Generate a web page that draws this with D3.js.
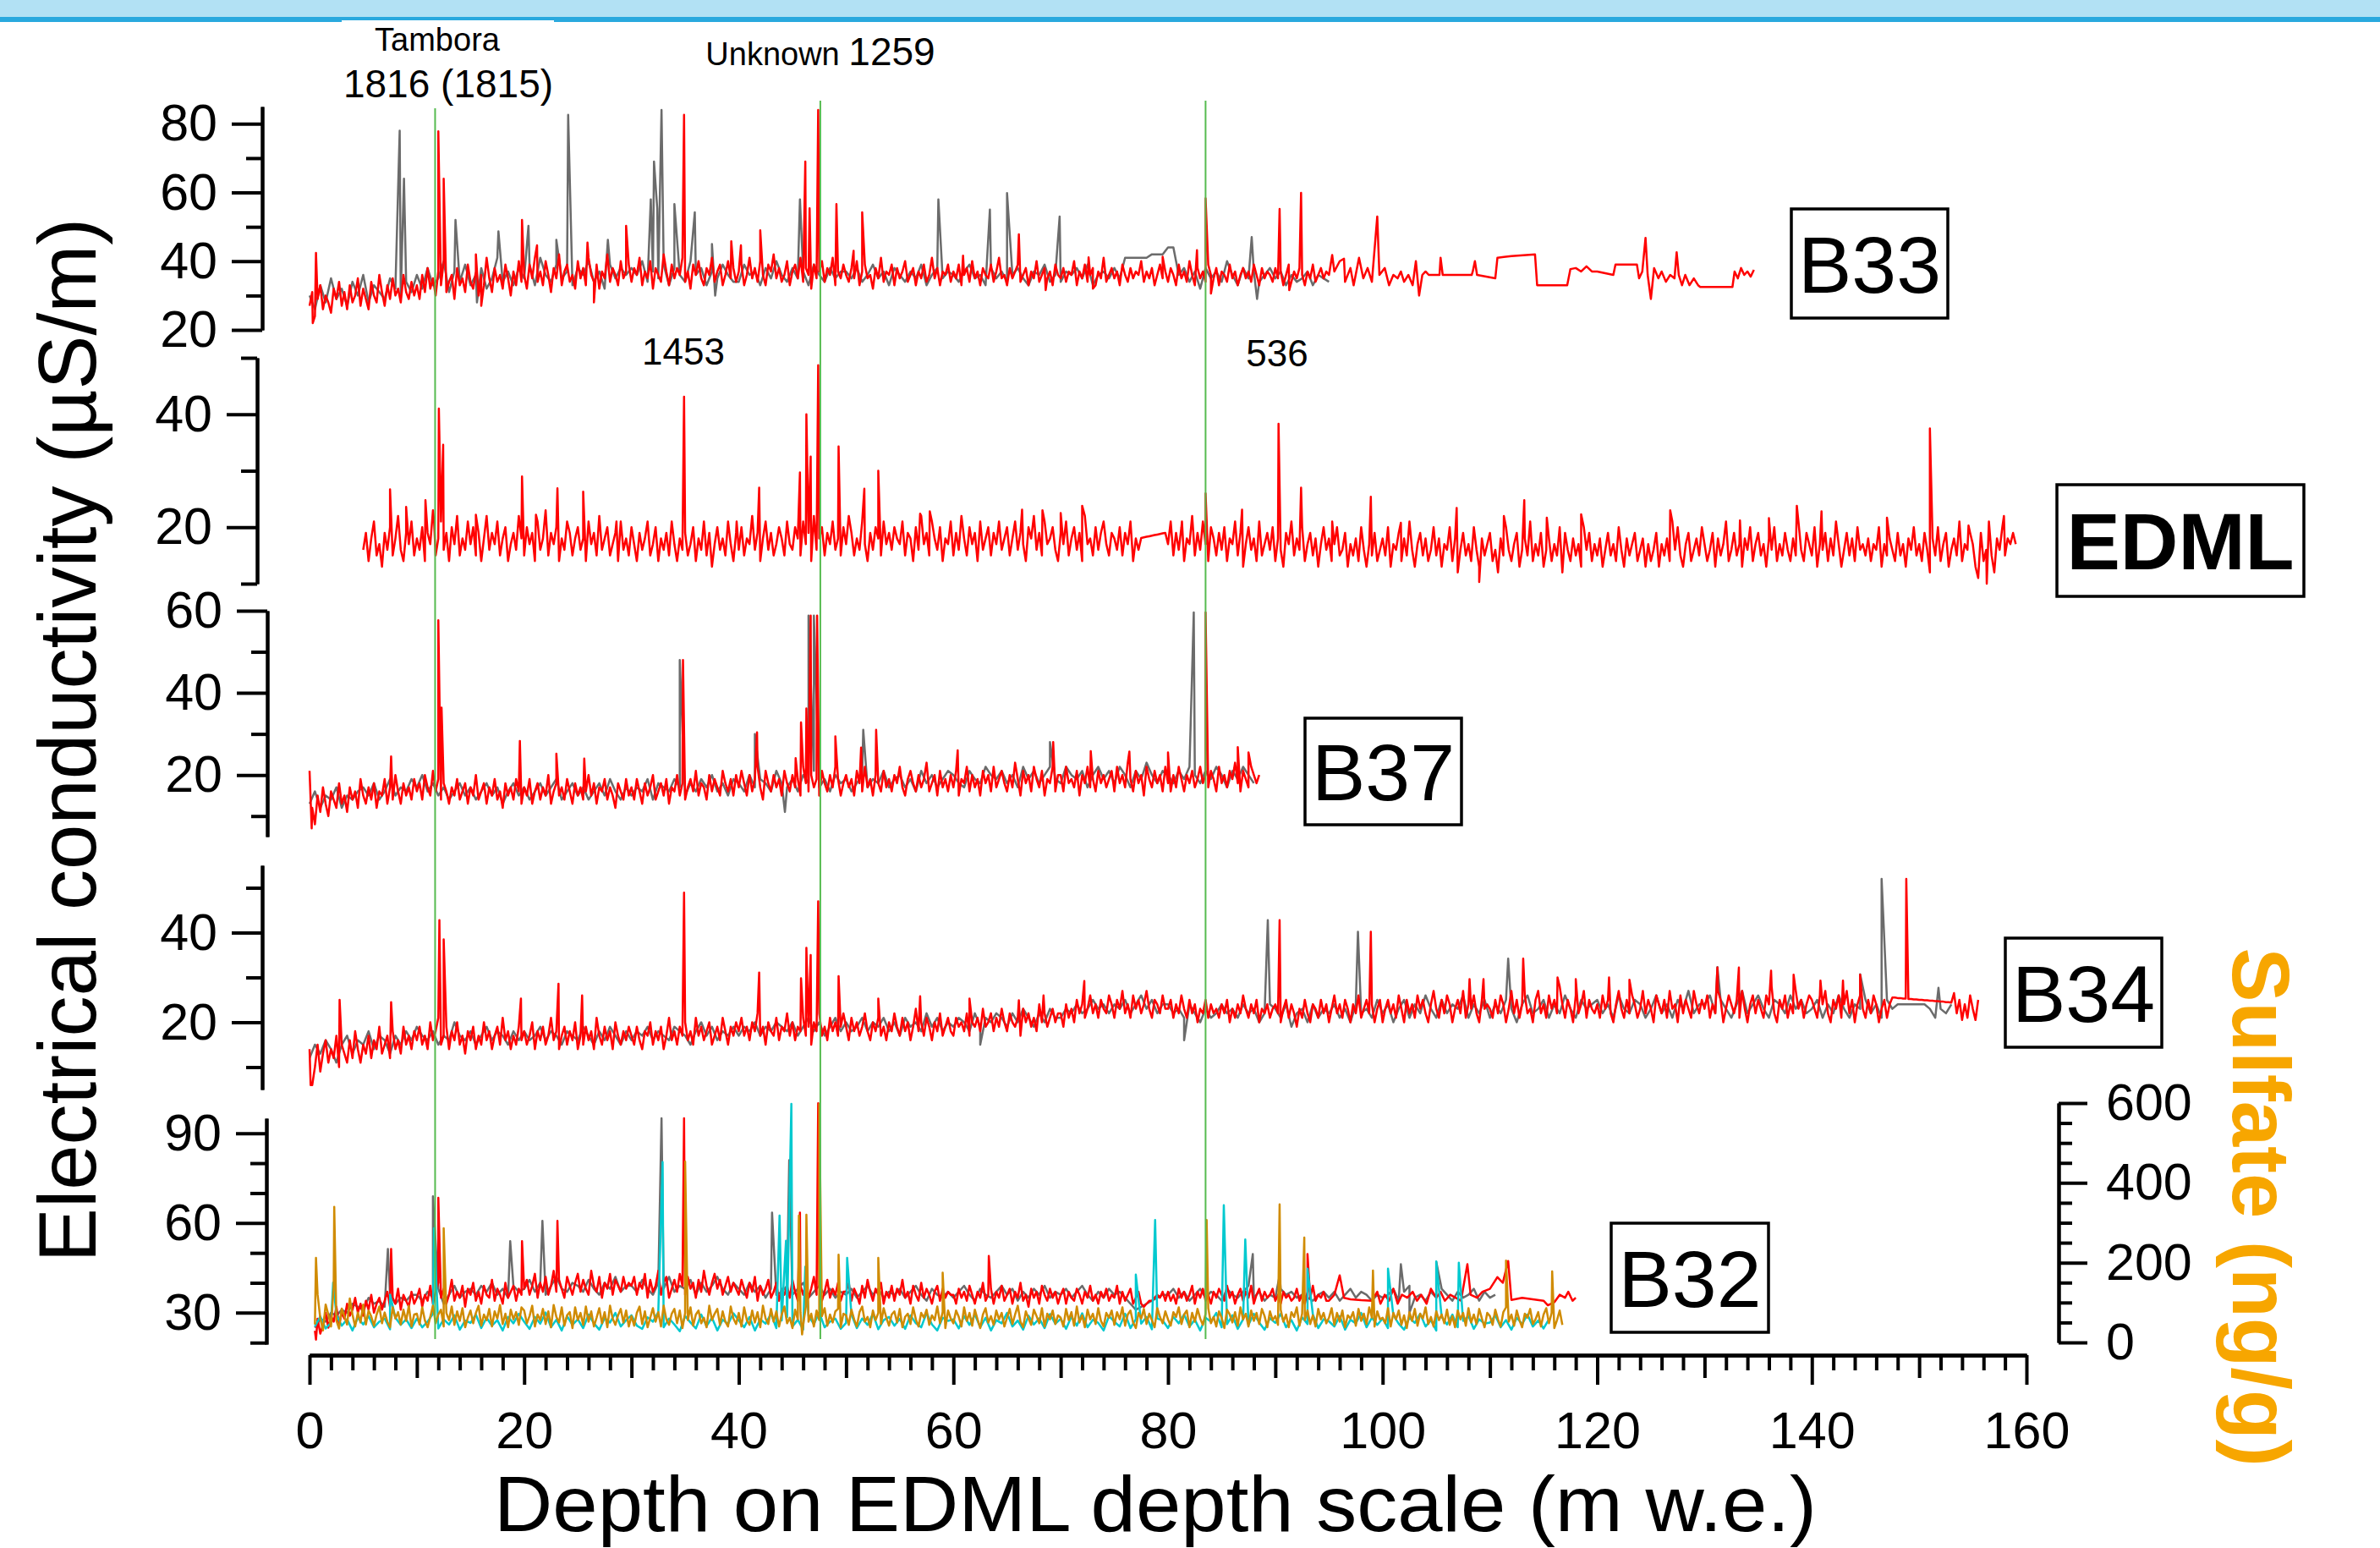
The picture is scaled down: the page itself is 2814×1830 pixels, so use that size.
<!DOCTYPE html>
<html>
<head>
<meta charset="utf-8">
<script src="https://cdn.jsdelivr.net/npm/d3@7"></script>
<style>
  html, body { margin: 0; padding: 0; background: #ffffff; }
  svg { display: block; font-family: "Liberation Sans", Arial, Helvetica, sans-serif; }
</style>
</head>
<body>
<svg id="chart" width="2814" height="1830"></svg>
<script>
// ---------------------------------------------------------------
// Depth axis
const depthTicks = [0, 20, 40, 60, 80, 100, 120, 140, 160];

// Volcanic marker horizons (m w.e.)
const eventDepths = [11.7, 47.6, 83.5];

// Each dense record: [first depth, spacing] + values,
// plus individual peaks / sparse samples as [depth, value]

// ---- B33 ----
const b33RedGrid = [0, 0.25];
const b33Red = [
  27,31,24,29,33,26,30,28,25,32,29,34,27,31,26,33,28,30,35,27,32,29,26,34,30,28,36,31,27,33,29,35,30,32,28,36,31,29,34,30,
  33,29,36,31,38,32,35,30,37,33,40,31,34,36,29,38,33,35,31,39,34,32,37,30,36,33,41,35,31,38,34,36,32,39,35,30,37,33,40,34,
  36,32,39,35,41,34,37,33,40,36,31,38,35,42,33,37,39,34,36,32,40,35,38,33,41,36,34,39,32,37,35,42,34,38,36,33,40,35,37,39,
  34,38,36,41,33,37,35,40,32,38,36,34,42,37,33,39,35,38,36,41,34,37,32,39,36,40,35,33,38,36,41,34,37,39,33,36,40,35,38,34,
  37,39,33,36,41,35,38,34,40,36,33,39,37,42,35,38,34,36,40,33,37,39,35,41,34,38,36,32,39,35,37,40,34,38,36,41,33,37,35,39,
  36,34,38,35,40,33,37,39,35,36,32,38,35,41,34,37,36,39,33,38,35,37,40,34,36,38,33,37,35,39,34,36,41,35,38,33,37,36,39,34,
  37,35,39,33,36,38,34,40,35,37,33,38,36,35,39,34,37,41,35,36,33,38,35,37,39,34,36,38,33,37,35,40,34,36,38,35,37,33,39,36,
  35,38,34,37,36,40,33,37,35,39,34,36,38,33,37,35,41,34,36,38,35,37,33,39,36,34,38,35,37,36,40,34,37,35,38,33,36,39,35,37,
  34,38,36,33,39,35,37,34,40,36,33,38,35,37,34,39,36,35,38,33,37,36,34,39,35,37,33,36,38,35,37,34,39,36,33,38,35,37,36,34,
  38,35,37,33,36,39,34,37,35,38,36,33,37,35,39,34,36,38,35,37,36
];
const b33RedPeaks = [
  [0.3,22],[0.6,42.4],[12.0,77.8],[12.5,64],[15.5,42],[16,27],[19.8,52],[21.2,44.6],[25.9,45.4],
  [26.5,28],[29.5,50.3],[34.9,82.6],[39.3,45.8],[40.2,44.6],[42,49],[46.2,69],[46.6,55.4],
  [47.4,84],[49.1,56.6],[50.7,43],[51.5,54.2],[60.9,41.6],[66.1,47.8],[68.6,31.6],[72.6,41.1],
  [73,32],[79.5,41.3],[82.7,43.2],[83.5,58.3],[84,30.6],[90.4,55.2],[91.3,31.6],[92.4,59.9],
  [95.3,41.8],
  [95.5,37],[96,40],[96.4,40.7],[96.5,34],[97,38],[97.3,33],[97.8,41],[98.2,35],[98.6,38],[99,34],
  [99.5,53],[99.7,36],[100.2,38],[100.6,33],[101,36],[101.4,35],[101.7,37],[102,34],
  [102.4,36],[102.8,33],[103.1,40],[103.4,30],[103.7,36],[104,37],[104.3,36],[105.3,36],
  [105.4,41],[105.6,36],[108.3,36],[108.4,37],[108.6,40],[108.8,36],[110.5,35],[110.7,41],
  [112,41.5],[114.2,42],[114.4,33],[117.2,33],[117.5,37.7],[118,38],[118.5,37],[119,38.5],
  [119.5,37],[120,37],[121.5,36],[121.7,39],[123.7,39],[123.9,35],[124.2,37],[124.5,46.8],
  [124.7,36],[125,29],[125.3,38],[125.7,35],[126,37],[126.4,34],[126.8,36],[127.2,35],
  [127.4,42.6],[127.6,36],[127.9,33],[128.2,36],[128.6,33],[129,35],[129.4,33],[129.6,32.5],
  [132.6,32.5],[132.8,37],[133.1,35],[133.4,38],[133.7,36],[134,37],[134.3,35.5],[134.6,37.5]
];
const b33GrayGrid = [0, 0.5];
const b33Gray = [
  30,26,33,28,35,29,32,27,34,30,36,28,33,31,29,35,32,30,34,31,
  36,32,38,33,35,40,31,37,34,39,33,36,38,32,35,41,34,37,33,38,
  35,39,33,41,36,34,39,35,37,33,38,36,40,34,37,32,39,35,38,36,
  38,36,40,34,37,35,39,33,38,36,34,40,36,38,33,37,35,39,36,34,
  34,39,36,37,33,38,35,40,36,34,38,35,37,33,39,36,34,38,35,37,
  37,35,38,34,36,39,35,37,33,38,36,34,37,35,39,33,36,38,35,37,
  36,34,37,39,35,36,33,38,35,37,34,36,38,35,33,37,36,39,34,36,
  34,37,36,38,35,39,33,36,37,35,38,35,41,41,41,41,41,42,42,42,
  44,44,36,38,34,37,32,38,35,37,34,40,36,33,38,35,37,34,36,38,
  35,37,33,36,34,35,37,33,36,35,34
];
const b33GrayPeaks = [
  [8.4,78],[8.8,64],[13.6,52],[15.6,28],[17.6,48.7],[20.4,50.3],[23,46.2],[24.1,82.6],[27.8,46.2],
  [31.8,58],[32.1,69],[32.4,55.4],[32.8,84],[34,56.6],[35.9,54.2],[37.5,45],[37.8,30],[45.7,58],
  [58.6,58],[63.4,55],[65,59.8],[69.9,53],[87.8,47],[88.3,29]
];

// ---- EDML ----
const edmlGrid = [5, 0.25];
const edml = [
  16,19,14,18,21,15,17,13,19,16,20,15,18,22,16,14,19,17,21,15,18,16,20,14,19,17,23,15,18,21,16,19,14,20,17,22,15,18,16,21,
  17,20,15,19,14,18,22,16,19,17,21,15,18,20,14,17,19,16,22,18,15,20,17,19,14,21,16,18,23,15,19,17,20,14,18,16,21,19,15,18,
  20,16,18,14,21,17,19,15,22,16,18,20,15,17,19,14,21,16,18,15,20,17,14,19,16,18,21,15,17,20,14,18,16,19,15,21,17,14,18,16,
  19,15,17,20,14,18,16,21,15,19,13,17,20,16,18,15,21,17,14,19,16,20,15,18,17,22,16,19,14,18,21,16,19,15,17,20,18,15,21,17,
  16,20,18,15,21,17,19,14,22,16,18,20,15,19,17,21,16,18,15,20,17,22,19,15,18,16,21,17,14,19,16,20,18,15,21,17,19,16,20,18,
  17,21,15,19,18,14,20,16,22,17,19,15,21,18,16,20,14,18,17,21,15,19,16,22,18,15,20,17,19,14,21,16,18,20,15,19,17,21,16,18,
  20,15,18,21,16,19,17,14,20,18,22,16,19,15,21,17,18,20,16,14,19,17,21,15,18,20,16,19,14,22,17,18,15,20,16,19,21,17,15,19,
  18,16,20,15,19,17,21,14,18,16,18.1,18.2,18.3,18.4,18.5,18.6,18.7,18.8,18.9,19,17,21,15,19,16,20,14,18,17,22,15,19,16,21,17,14,20,18,15,19,
  16,20,14,18,17,21,15,19,13,17,20,16,18,14,21,15,17,19,16,20,14,18,16,13,19,17,21,15,18,16,20,14,17,19,15,18,13,17,20,16,
  18,14,17,20,15,16,19,13,17,15,18,14,20,16,13,17,15,19,14,16,18,15,20,13,17,16,19,14,18,15,21,16,13,17,19,15,18,14,16,20,
  15,18,13,17,16,20,14,18,12,16,19,15,17,14,20,16,13,18,15,17,19,14,16,12,18,15,20,16,14,17,19,13,16,18,15,21,14,17,15,19,
  13,16,18,14,17,15,20,12,19,16,14,18,15,17,13,20,16,19,14,17,15,18,13,16,19,15,17,14,20,16,13,18,15,17,19,14,16,18,13,17,
  14,16,19,13,17,15,18,14,21,16,20,15,13,17,19,14,16,18,15,20,17,14,16,19,13,18,15,17,21,14,16,19,15,17,13,18,16,20,14,17,
  19,15,17,13,18,16,20,14,17,15,19,16,14,18,15,21,16,14,19,17,15,20,13,17,16,19,14,18,15,21,17,13,16,19,15,18,14,20,16,17,
  15,18,14,17,16,20,13,17,15,18,16,14,19,15,17,13,18,16,20,15,17,14,19,16,12,18,15,20,14,17,19,13,16,18,15,21,14,17,16,19,
  17,13,11,19,14,16,21,15,12,18,16,20,15,18,17,19,17
];
const edmlPeaks = [
  [7.5,26.7],[9,23.6],[10.8,24.8],[11.6,21.2],[12.05,41],[12.45,34.6],[15.5,22.2],[19.8,29],
  [21.1,22.2],[23.1,26.9],[25.5,26.3],[28.6,21],[34.9,43.1],[39.8,21],[41.9,27],[45.7,29.7],
  [46.3,40],[46.7,32.5],[47.4,48.7],[49.3,34.3],[51.7,26.8],[53,30],[56.9,22.4],[57.8,22.8],
  [66.4,23.1],[68.3,23],[70,22.5],[72,23.8],[81.3,21],[83.5,26],[86.9,23.1],[90.3,38.3],
  [92.4,27],[95.3,21],[98.9,25.4],[101.7,20.8],[106.9,23.4],[109,10.3],[111.3,22],[113.2,24.8],
  [115.3,21.7],[118.5,22.3],[126.8,23],[133.3,21.2],[136,21.6],[138.6,23.8],[140.9,22.8],
  [147,21.7],[151,37.5],[154.6,20.3],[156.3,10],[157.9,22]
];

// ---- B37 ----
const b37RedGrid = [0, 0.25];
const b37Red = [
  21,12,8,15,11,17,13,10,16,14,12,18,13,15,11,17,14,16,12,19,15,13,17,14,18,12,16,15,19,13,17,14,20,16,13,18,15,17,14,19,
  16,18,14,20,17,15,21,16,19,14,18,16,13,17,15,19,14,16,18,13,17,15,20,14,16,18,13,17,15,19,14,16,12,18,15,17,14,19,16,13,
  17,15,19,13,16,18,14,17,15,20,13,16,18,15,17,14,19,16,13,18,15,17,14,16,20,15,18,13,17,16,19,14,17,15,12,18,16,14,19,15,
  17,14,19,16,13,18,15,17,20,14,16,18,15,19,13,17,16,20,15,18,14,17,19,16,21,15,18,17,14,20,16,19,17,15,21,18,16,19,15,20,
  17,21,18,15,20,16,19,22,17,14,21,18,16,20,17,19,15,21,18,16,20,17,19,15,22,18,16,20,17,19,15,21,18,16,20,17,22,19,15,18,
  20,17,19,15,21,18,16,22,17,19,15,20,18,16,21,17,19,16,20,18,22,17,15,19,21,18,16,20,17,19,23,16,18,20,15,21,17,19,16,20,
  17,21,15,19,18,22,16,20,17,19,15,21,18,20,16,22,17,19,21,18,16,20,17,23,19,15,21,18,20,16,22,19,17,21,15,19,18,22,16,20,
  20,16,22,18,19,17,21,15,20,18,22,17,19,16,21,18,20,17,19,21,16,22,18,20,17,23,19,16,21,18,20,15,22,19,17,21,18,20,16,22,
  18,16,20,17,22,19,16,20,18,21,17,19,22,18,20,17,21,19,16,22,18,20,17,21,19,23,18,16,21,19,17,22,20,18,20
];
const b37RedPeaks = [
  [0.2,7],[7.6,24.5],[12,57.7],[12.3,36.4],[19.6,28.3],[23,25.2],[25.6,24],[34.8,48],[41.7,30.4],
  [45.3,24.1],[45.8,32.8],[46.3,36.2],[46.7,58.8],[47.3,58.8],[49,29.4],[51.4,26.7],
  [52.8,31],[60.4,26],[69.3,28],[72.8,25.8],[76.4,25.7],[80,25.5],[83.5,59.6],[86.5,26.8],[87.5,25.5]
];
const b37GrayGrid = [0, 0.5];
const b37Gray = [
  13,16,12,15,14,17,12,15,14,16,17,15,18,14,16,19,15,17,16,19,
  17,20,16,18,15,17,14,16,18,15,17,14,16,18,15,17,13,16,18,15,
  17,14,16,18,15,17,19,14,16,18,15,17,14,16,18,15,19,16,14,17,
  15,17,16,19,14,18,17,16,19,17,15,18,16,19,17,20,16,18,15,19,
  18,16,20,17,19,18,16,21,18,17,19,16,20,18,21,17,19,16,20,18,
  19,16,18,20,17,19,18,21,17,19,20,17,19,16,21,18,20,17,19,21,
  20,18,17,21,19,18,22,20,19,21,18,20,17,22,19,21,18,20,22,19,
  18,22,20,19,21,17,20,22,19,21,18,22,20,17,21,19,23,20,18,21,
  20,18,21,19,22,20,18,21,19,22,20,17,21,19,22,20,18
];
const b37GrayPeaks = [
  [34.5,48],[41.5,30],[44.3,11],[46.5,58.8],[47,58.8],[51.6,31],[69,28],[82.4,59.6]
];

// ---- B34 ----
const b34RedGrid = [0, 0.25];
const b34Red = [
  14,6,10,15,9,13,16,11,14,12,17,10,15,13,11,16,12,18,14,11,15,13,17,12,16,14,19,13,15,17,12,18,14,16,13,19,15,17,14,18,
  16,19,15,17,14,20,16,18,21,15,17,19,14,18,16,20,15,17,13,18,16,19,14,17,15,20,16,18,14,17,19,15,21,16,18,14,17,15,19,16,
  18,15,17,20,14,18,16,19,15,17,21,16,18,14,17,19,15,18,16,20,14,17,15,19,16,18,14,21,17,15,19,16,18,14,20,17,15,18,16,19,
  17,15,19,16,14,18,17,20,15,18,16,19,14,17,21,16,18,15,19,17,20,16,18,15,21,17,19,16,18,20,15,17,19,16,21,18,15,19,17,20,
  18,21,17,19,16,20,18,22,17,19,15,20,18,17,21,16,19,18,22,17,20,16,19,18,21,17,19,15,20,18,22,17,19,16,21,18,20,17,19,22,
  19,16,21,18,20,17,19,22,18,16,20,18,21,17,19,16,20,18,22,19,17,21,18,20,16,19,23,18,20,17,21,19,16,20,18,22,17,19,21,18,
  17,21,19,20,18,22,17,20,19,21,18,23,19,20,22,18,21,19,23,20,18,22,20,19,21,17,23,20,22,19,21,18,24,20,22,19,21,23,20,22,
  22,19,24,21,23,20,25,22,24,21,23,26,22,24,21,25,23,22,26,24,21,25,23,27,22,24,21,26,23,25,22,24,27,23,21,25,24,22,26,23,
  23,25,21,24,22,26,23,21,25,22,24,20,23,22,25,21,24,22,23,21,24,22,25,20,23,21,24,22,26,23,21,24,22,25,20,23,22,24,21,23,
  24,22,20,23,25,21,24,22,19,23,21,25,22,20,24,23,21,25,22,24,20,23,26,22,24,21,25,23,20,24,22,26,21,23,25,22,24,20,23,25,
  20,23,25,22,24,21,26,23,20,25,22,24,21,26,23,25,22,20,24,27,23,21,25,22,26,24,20,23,25,22,27,21,24,23,26,22,20,25,23,24,
  23,21,25,22,26,24,20,23,27,22,25,21,24,26,22,23,20,25,27,22,24,21,26,23,25,22,28,24,21,25,23,20,26,22,24,27,21,25,23,22,
  24,21,26,23,25,22,20,24,27,23,21,25,22,26,24,21,23,27,22,25,23,20,26,24,22,25,21,27,23,24,20,26,22,25,23,21,27,24,22,25,
  23,26,21,24,22,27,25,20,23,26,24,22,25,21,27,23,20,24,26,22,25,23,21,26,24,28,22,20,25,23,26,21,24,22,27,23,25,21,24,26,
  25,23,21,26,24,27,22,20,25,23,26,21,24,27,22,25,20,24,26,23,21,25,22,26,24,20,23,25,21,24,25.5,25.5,25.4,25.4,25.3,25.3,25.2,25.2,25.1,25.1,
  25,25,24.9,24.9,24.8,24.8,24.7,24.7,24.6,24.6,24.5,24.5,24.4,26.5,22,25,20.5,24,21,26,23,20.5,25
];
const b34RedPeaks = [
  [0.1,6],[2.8,25],[7.6,24.5],[12.1,42.8],[12.5,38.5],[19.7,25.3],[23.2,28.6],[25.4,26],[34.9,48.9],
  [41.9,31.1],[45.8,29.8],[46.3,36.6],[46.7,35],[47.4,47],[49.3,30.3],[53,25.3],[56.9,25.8],
  [61.5,25.3],[66.1,24.9],[68.4,26],[72.2,29.2],[90.4,42.8],[98.9,40.2],[108.1,29.6],[109.4,29.6],
  [113.1,34.2],[116.3,30],[118,29.6],[121.1,30],[123,29.5],[131.2,32.2],[133.2,32.2],[136.2,31.5],
  [138.3,30.6],[140.8,29.3],[142.9,29.3],[144.5,30.6],[148.8,52]
];
const b34GrayGrid = [0, 0.5];
const b34Gray = [
  12,15,13,16,14,11,15,17,13,16,15,18,14,17,16,13,17,15,18,16,
  19,17,16,18,15,17,16,20,17,16,18,15,17,19,16,18,17,15,18,16,
  18,16,17,19,16,18,17,15,18,17,16,19,17,15,18,16,19,17,15,18,
  16,18,17,19,16,18,17,16,19,18,17,15,18,20,17,19,16,18,17,19,
  17,19,18,20,17,19,18,20,19,18,20,17,19,21,18,20,17,19,21,18,
  20,18,19,21,18,20,19,21,18,20,17,21,19,20,18,22,19,21,18,20,
  19,21,20,18,22,19,21,20,22,21,19,22,20,23,21,19,22,20,23,21,
  21,23,22,24,22,23,25,23,24,22,24,23,25,22,24,26,23,25,22,24,
  24,22,23,21,24,22,20,23,21,22,24,22,23,21,24,22,23,20,22,24,
  23,21,24,19,22,23,20,24,21,23,22,24,21,23,20,24,22,23,21,25,
  22,24,20,23,25,21,24,22,26,23,21,25,22,24,23,26,21,24,22,25,
  21,24,22,25,23,20,24,26,22,23,25,21,24,22,26,23,21,25,23,24,
  25,22,24,21,26,23,22,25,24,21,23,26,22,24,21,25,23,27,22,24,
  24,26,22,25,23,21,24,27,22,24,26,23,21,25,24,22,26,23,25,22,
  23,25,21,24,22,26,23,21,24,23,25,22,24,21,25,23,24,24,24,24,
  24,24,23,21,23,22,24
];
const b34GrayPeaks = [
  [62.5,15],[81.5,16],[89.3,42.8],[97.7,40.2],[111.7,34.2],[131.2,32.3],[144.5,30.7],[146.5,52],[151.8,27.7]
];

// ---- B32 conductivity ----
const b32RedGrid = [0.5, 0.25];
const b32Red = [
  24,28,23,26,30,25,29,27,32,26,30,28,33,29,31,35,30,33,29,34,31,36,30,33,35,31,34,37,32,35,33,38,31,36,34,32,37,33,
  35,38,32,36,34,39,33,37,40,35,38,33,36,41,34,37,35,39,32,38,36,40,34,37,33,39,36,35,41,34,38,36,33,40,35,37,39,34,38,36,
  38,41,36,39,43,35,40,37,42,36,39,44,37,41,38,35,42,39,36,40,43,37,41,38,36,44,39,37,42,35,40,38,43,36,41,39,37,42,38,40,
  39,42,36,40,38,43,35,41,37,39,44,36,40,42,35,38,41,37,43,39,36,42,38,40,35,41,37,44,39,36,40,43,38,41,36,39,42,37,40,38,
  36,41,38,35,40,37,42,34,39,36,38,41,35,37,40,34,38,36,39,35,41,37,34,39,36,40,35,38,42,36,39,34,37,41,35,38,36,40,34,37,
  37,40,34,38,36,33,39,35,41,37,34,38,36,40,33,37,35,39,34,38,36,41,35,37,33,39,36,34,40,35,38,36,33,37,39,34,38,35,37,36,
  36,33,38,35,37,34,39,36,33,37,35,40,34,36,38,33,37,35,39,34,36,38,33,37,35,40,34,36,32,38,35,37,33,39,36,34,38,35,37,33,
  36,38,33,37,35,34,38,36,33,37,35,39,34,36,33,37,35,38,34,36,35,39,33,37,34,36,38,33,35,37,33,32,33,34,34,35,36,35,37,34,
  37,34,36,33,38,35,37,34,36,39,33,37,35,38,34,36,33,37,35,38,36,34,39,35,37,33,36,38,34,37,35,39,33,36,38,34,37,35,36,38,
  34,36,33,37,35,36,34,35,38,34,36,33,37,35,39,34,36,35,37,34
];
const b32RedPeaks = [
  [0.6,21],[7.6,51.3],[12,68.4],[19.8,53.9],[23.1,60.7],[34.9,95],[45.7,63.5],[47.4,100],
  [63.3,49],[93,49.6],
  [95,34],[95.5,36],[96,42.5],[96.4,35],[97,34.5],[98,34.2],[99,34],[99.5,37],[99.8,33],
  [100.2,36],[100.6,34],[101,38],[101.4,33],[101.8,36],[102.3,35],[102.8,37],[103.2,34],
  [103.6,36],[104.1,33],[104.5,38],[105,35],[105.4,37],[105.8,34],[106.3,36],[106.8,35],
  [107.3,34],[107.9,46.2],[108.2,36],[108.8,35],[109.3,37],[110,38],[110.7,41.9],[111.2,40],
  [111.7,47.3],[112,34.3],[113,35],[114,34.5],[115,34],[115.4,32.5],[116,33.5],[116.5,36],
  [117,35],[117.3,37],[117.7,34],[118,35]
];
const b32GrayGrid = [0.5, 0.5];
const b32Gray = [
  25,28,27,30,29,31,30,33,32,31,35,33,34,32,36,33,35,34,36,
  36,34,37,35,38,33,36,39,35,37,38,36,39,37,40,36,38,35,39,37,
  38,41,37,40,36,39,42,38,37,40,39,37,41,38,36,40,38,42,37,39,
  39,37,41,38,36,40,38,42,37,39,38,41,36,40,37,39,42,38,36,40,
  38,36,40,37,39,35,38,36,37,39,36,38,40,35,37,39,36,38,35,37,
  36,38,35,37,39,36,38,35,37,36,38,35,37,39,36,34,38,36,35,37,
  35,37,39,36,34,38,36,35,37,39,36,38,34,37,35,38,36,39,35,37,
  36,38,35,37,39,36,34,37,35,38,36,37,35,33,31,32,33,34,35,36,
  36,38,35,37,34,36,38,35,37,36,34,38,36,35,37,39,35,37,34,36,
  35,38,36,37,35,36,35,34,36,37,35,37,34,36,38,35,37,36,34,36,
  35,36,38,34,37,39,35,36,34,37,35,38,36,34,37,35,36,38,34,37,35,36
];
const b32GrayPeaks = [
  [7.3,51.3],[11.5,68.9],[18.7,53.9],[21.7,60.7],[32.8,95],[43.1,63.5],[44.7,81],
  [87.9,49.6],[90.4,42.5],[101.7,46.2],[102.5,30],[105,47]
];

// ---- B32 sulfate (ng/g), two records ----
const sulfateTicks = [0, 200, 400, 600];
const b32CyanGrid = [0.5, 0.5];
const b32Cyan = [
  40,65,35,50,70,42,58,30,62,45,66,38,52,60,33,62,44,58,36,
  60,38,52,72,35,58,45,68,32,55,49,70,36,62,42,56,30,64,48,72,
  52,34,64,47,75,38,57,30,66,44,58,36,70,48,32,61,50,74,40,56,
  68,42,34,63,52,76,38,60,45,28,66,50,35,70,41,62,30,57,46,73,
  55,38,64,30,58,47,72,36,55,63,40,57,32,66,46,75,38,52,60,34,
  49,70,36,60,44,72,33,56,64,42,59,34,68,48,38,74,45,30,62,54,
  58,35,66,44,70,38,62,30,56,48,74,40,55,32,67,45,60,36,71,47,
  59,34,65,42,73,38,57,49,30,66,52,40,72,36,58,47,64,33,60,55,
  36,64,48,70,40,57,30,62,52,74,38,46,68,34,58,44,72,50,32,61,
  49,72,38,56,30,63,46,70,36,58,53,40,66,32,57,48,74,38,62,44,
  60,36,68,47,32,62,49,72,40,56,30,64,45,70,38,54,66,34,58,47,
  50,68,38,56,32,62,46,70,40,55,35,58
];
const b32CyanPeaks = [
  [2.2,150],[7.5,120],[11.6,286],[32.9,452],[43.8,318],[44.4,255],[44.9,598],[46.2,190],
  [50.1,212],[77,170],[78.8,307],[85.2,344],[87.2,258],[93,185],[100.5,185],[105,203],[107.1,200]
];
const b32OrangeGrid = [0.5, 0.25];
const b32Orange = [
  45,120,60,30,95,70,40,140,55,35,85,65,45,110,70,40,75,50,95,45,80,65,42,70,90,48,75,52,38,88,60,76,45,82,54,92,40,70,
  72,45,88,55,38,64,92,48,70,82,40,74,56,90,44,78,54,86,38,62,80,48,74,92,42,70,56,84,40,78,60,94,46,72,38,82,58,76,44,88,
  80,48,66,92,40,70,56,84,46,78,38,94,64,50,88,42,68,76,36,88,56,74,44,90,52,78,40,62,86,48,76,38,92,60,44,68,84,50,80,40,
  66,42,74,90,46,78,38,62,86,52,76,40,92,58,44,72,84,48,80,36,74,56,88,42,70,80,48,62,38,92,56,72,84,44,78,52,40,90,60,46,
  74,40,88,56,44,80,50,76,38,92,60,46,84,52,78,40,70,90,48,62,36,82,58,76,44,90,52,72,40,80,56,66,86,42,70,50,78,84,38,72,
  68,44,82,58,40,76,90,52,64,38,80,56,74,46,86,62,42,70,78,50,84,38,64,72,46,88,58,40,74,62,82,44,68,56,90,48,76,36,80,60,
  48,80,64,40,88,54,74,42,82,58,36,70,86,50,66,44,80,58,74,40,62,84,46,70,92,52,38,78,60,44,82,66,48,86,40,72,58,80,46,68,
  62,40,84,56,76,42,90,50,68,38,82,58,72,46,86,54,40,74,62,80,44,76,58,88,42,70,80,50,36,74,60,84,46,72,56,38,86,64,48,78,
  58,42,76,64,88,46,70,80,38,74,52,84,60,44,72,86,48,64,40,78,62,36,82,70,50,76,42,88,58,72,40,80,54,74,46,84,66,38,78,56,
  66,44,82,52,70,38,76,64,88,42,72,56,80,46,68,40,84,58,74,48,62,86,44,74,52,80,38,68,60,76,42,84,54,72,46,88,62,40,78,58,
  62,48,86,40,74,58,80,44,68,36,76,54,84,42,72,60,88,46,64,40,78,56,70,48,82,44,66,38,80,58,74,42,86,50,70,46,84,60,38,74,
  66,44,82,58,40,76,88,52,70,42,80,56,38,72,62,84,46,58,76,40,70,86,48,74,36,56,80,44
];
const b32OrangePeaks = [
  [0.6,212],[2.3,340],[12.5,286],[35,453],[45.6,318],[45.9,20],[46.3,320],[47.5,598],
  [49.3,220],[53,212],[59,175],[83.6,307],[90.4,346],[92.7,263],[99.1,180],[111.5,205],[115.8,178]
];

// ---------------------------------------------------------------
const RED = '#ff0000', GRAY = '#6b6b6b', CYAN = '#00c9cf', ORANGE = '#d08b02', GREEN = '#56bb50';
const LINE_W = 2.5;

function record(grid, vals, extra) {
  const pts = vals.map((v, i) => [grid[0] + i * grid[1], v]);
  return pts.concat(extra || []).sort((a, b) => a[0] - b[0]);
}

const svg = d3.select('#chart');
const x = d3.scaleLinear().domain([0, 160]).range([366, 2396]);

// header band
svg.append('rect').attr('x', 0).attr('y', 0).attr('width', 2814).attr('height', 21).attr('fill', '#b2e1f4');
svg.append('rect').attr('x', 0).attr('y', 20).attr('width', 2814).attr('height', 6).attr('fill', '#29a9de');
svg.append('rect').attr('x', 404).attr('y', 24).attr('width', 251).attr('height', 60).attr('fill', '#ffffff');

const panels = [
  { label: 'B33', bold: false, domain: [20, 85], range: [390, 126], axisX: 310,
    major: [20, 40, 60, 80], minor: [30, 50, 70], box: [2118, 247, 185, 129],
    lines: [[record(b33GrayGrid, b33Gray, b33GrayPeaks), GRAY], [record(b33RedGrid, b33Red, b33RedPeaks), RED]] },
  { label: 'EDML', bold: true, domain: [10, 50], range: [690, 423], axisX: 304,
    major: [20, 40], minor: [10, 30, 50], box: [2432, 573, 292, 132],
    lines: [[record(edmlGrid, edml, edmlPeaks), RED]] },
  { label: 'B37', bold: false, domain: [5, 60], range: [989, 722], axisX: 316,
    major: [20, 40, 60], minor: [10, 30, 50], box: [1543, 849, 185, 126],
    lines: [[record(b37GrayGrid, b37Gray, b37GrayPeaks), GRAY], [record(b37RedGrid, b37Red, b37RedPeaks), RED]] },
  { label: 'B34', bold: false, domain: [5, 55], range: [1288, 1023], axisX: 310,
    major: [20, 40], minor: [10, 30, 50], box: [2371, 1109, 185, 129],
    lines: [[record(b34GrayGrid, b34Gray, b34GrayPeaks), GRAY], [record(b34RedGrid, b34Red, b34RedPeaks), RED]] },
  { label: 'B32', bold: false, domain: [19.5, 95], range: [1589, 1322], axisX: 315,
    major: [30, 60, 90], minor: [20, 40, 50, 70, 80], box: [1905, 1446, 186, 129],
    lines: [[record(b32GrayGrid, b32Gray, b32GrayPeaks), GRAY], [record(b32RedGrid, b32Red, b32RedPeaks), RED]] }
];

const ySul = d3.scaleLinear().domain([0, 600]).range([1587, 1304]);

function styleAxis(g, fs) {
  g.selectAll('path').attr('stroke', '#000').attr('stroke-width', 4);
  g.selectAll('line').attr('stroke', '#000').attr('stroke-width', 4);
  g.selectAll('text').attr('font-size', fs).attr('fill', '#000')
    .attr('font-family', '"Liberation Sans", Arial, Helvetica, sans-serif');
}

// data lines
panels.forEach(p => {
  const y = d3.scaleLinear().domain(p.domain).range(p.range);
  p.y = y;
  const line = d3.line().x(d => x(d[0])).y(d => y(d[1]));
  p.lines.forEach(([pts, col]) => {
    svg.append('path').datum(pts).attr('d', line).attr('fill', 'none')
      .attr('stroke', col).attr('stroke-width', LINE_W).attr('stroke-linejoin', 'round');
  });
});

// sulfate lines in the B32 panel
const sulLine = d3.line().x(d => x(d[0])).y(d => ySul(d[1]));
[[record(b32CyanGrid, b32Cyan, b32CyanPeaks), CYAN], [record(b32OrangeGrid, b32Orange, b32OrangePeaks), ORANGE]]
  .forEach(([pts, col]) => {
    svg.append('path').datum(pts).attr('d', sulLine).attr('fill', 'none')
      .attr('stroke', col).attr('stroke-width', LINE_W).attr('stroke-linejoin', 'round');
  });

// horizon markers
eventDepths.forEach((d, i) => {
  svg.append('line').attr('x1', x(d)).attr('x2', x(d))
    .attr('y1', i === 0 ? 128 : 119).attr('y2', 1583)
    .attr('stroke', GREEN).attr('stroke-width', 2);
});

// left axes and record labels
panels.forEach(p => {
  const gMin = svg.append('g').attr('transform', `translate(${p.axisX},0)`)
    .call(d3.axisLeft(p.y).tickValues(p.minor).tickSize(19).tickSizeOuter(0).tickFormat(''));
  styleAxis(gMin, 61);
  const gMaj = svg.append('g').attr('transform', `translate(${p.axisX},0)`)
    .call(d3.axisLeft(p.y).tickValues(p.major).tickSize(36).tickSizeOuter(0).tickPadding(17).tickFormat(d3.format('d')));
  styleAxis(gMaj, 61);

  const [bx, by, bw, bh] = p.box;
  svg.append('rect').attr('x', bx).attr('y', by).attr('width', bw).attr('height', bh)
    .attr('fill', '#fff').attr('stroke', '#000').attr('stroke-width', 3.5);
  svg.append('text').attr('x', bx + bw / 2).attr('y', by + bh / 2 + 34)
    .attr('text-anchor', 'middle').attr('font-size', 95)
    .attr('font-weight', p.bold ? 'bold' : 'normal').text(p.label);
});

// sulfate axis
const gS1 = svg.append('g').attr('transform', 'translate(2434,0)')
  .call(d3.axisRight(ySul).tickValues(d3.range(50, 600, 50).filter(v => v % 200 !== 0)).tickSize(16).tickSizeOuter(0).tickFormat(''));
styleAxis(gS1, 61);
const gS2 = svg.append('g').attr('transform', 'translate(2434,0)')
  .call(d3.axisRight(ySul).tickValues(sulfateTicks).tickSize(34).tickSizeOuter(0).tickPadding(22).tickFormat(d3.format('d')));
styleAxis(gS2, 61);

// depth axis
const xMinor = d3.range(0, 161, 2).filter(v => v % 10 !== 0);
const xMid = d3.range(10, 160, 20);
const gx1 = svg.append('g').attr('transform', 'translate(0,1602)')
  .call(d3.axisBottom(x).tickValues(xMinor).tickSize(18).tickSizeOuter(0).tickFormat(''));
styleAxis(gx1, 61);
const gx2 = svg.append('g').attr('transform', 'translate(0,1602)')
  .call(d3.axisBottom(x).tickValues(xMid).tickSize(27).tickSizeOuter(0).tickFormat(''));
styleAxis(gx2, 61);
const gx3 = svg.append('g').attr('transform', 'translate(0,1602)')
  .call(d3.axisBottom(x).tickValues(depthTicks).tickSize(35).tickSizeOuter(0).tickPadding(32).tickFormat(d3.format('d')));
styleAxis(gx3, 61);

// axis titles
svg.append('text').attr('x', 1366).attr('y', 1810).attr('text-anchor', 'middle')
  .attr('font-size', 93).attr('textLength', 1564).attr('lengthAdjust', 'spacingAndGlyphs')
  .text('Depth on EDML depth scale (m w.e.)');
svg.append('text').attr('transform', 'translate(113,875) rotate(-90)').attr('text-anchor', 'middle')
  .attr('font-size', 96).text('Electrical conductivity (µS/m)');
svg.append('text').attr('transform', 'translate(2640,1427) rotate(90)').attr('text-anchor', 'middle')
  .attr('font-size', 96).attr('font-weight', 'bold').attr('fill', '#f7a600').text('Sulfate (ng/g)');

// horizon annotations
svg.append('text').attr('x', 517).attr('y', 60).attr('text-anchor', 'middle').attr('font-size', 38).text('Tambora');
svg.append('text').attr('x', 530).attr('y', 115).attr('text-anchor', 'middle').attr('font-size', 46).text('1816 (1815)');
const unk = svg.append('text').attr('x', 970).attr('y', 77).attr('text-anchor', 'middle');
unk.append('tspan').attr('font-size', 38).text('Unknown ');
unk.append('tspan').attr('font-size', 46).text('1259');
svg.append('text').attr('x', 808).attr('y', 431).attr('text-anchor', 'middle').attr('font-size', 44).text('1453');
svg.append('text').attr('x', 1510).attr('y', 433).attr('text-anchor', 'middle').attr('font-size', 44).text('536');
</script>
</body>
</html>
